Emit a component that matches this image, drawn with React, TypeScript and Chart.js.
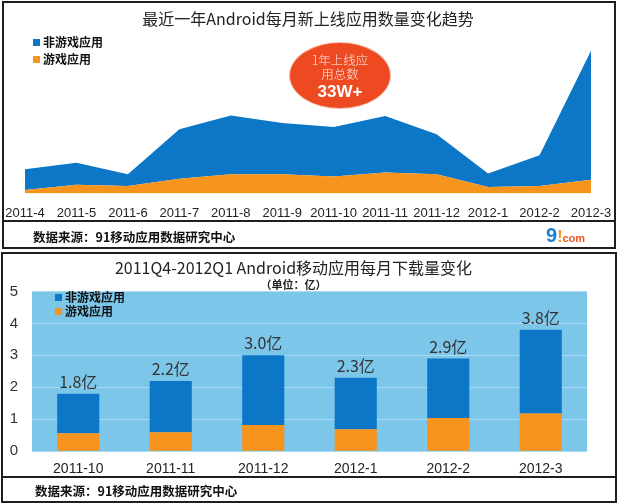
import React, { useEffect, useRef } from 'react';
import { Chart, registerables } from 'chart.js';

Chart.register(...registerables);

// ---------- Top chart data (new apps per month, unit: 千) ----------
const months = ['2011-4', '2011-5', '2011-6', '2011-7', '2011-8', '2011-9', '2011-10', '2011-11', '2011-12', '2012-1', '2012-2', '2012-3'];
const gameNew = [1.6, 4.1, 3.6, 7.0, 9.2, 9.2, 8.1, 10.0, 9.2, 3.1, 3.6, 6.5];
const nonGameNew = [10.0, 10.6, 5.6, 23.7, 28.1, 24.5, 23.7, 27.0, 19.1, 6.4, 14.7, 61.8];

// ---------- Bottom chart data (downloads per month, unit: 亿) ----------
const dlMonths = ['2011-10', '2011-11', '2011-12', '2012-1', '2012-2', '2012-3'];
const gameDl = [0.56, 0.59, 0.82, 0.69, 1.04, 1.18];
const nonGameDl = [1.24, 1.61, 2.18, 1.61, 1.86, 2.62];
const dlTicks = [0, 1, 2, 3, 4, 5];

const seriesNames = ['非游戏应用', '游戏应用'];

const BLUE = '#0c77c6';
const ORANGE = '#f7941e';
const PLOT_BG = '#7cc6ea';
const GRID = '#a9dbf2';
const CJK = '"Noto Sans CJK SC", "Noto Sans", sans-serif';
const LATIN = '"Liberation Sans", Arial, sans-serif';

const plotBgPlugin = {
  id: 'plotBg',
  beforeDraw(chart: any) {
    const { ctx, chartArea } = chart;
    if (!chartArea) return;
    ctx.save();
    ctx.fillStyle = PLOT_BG;
    ctx.fillRect(chartArea.left, chartArea.top, chartArea.right - chartArea.left, chartArea.bottom - chartArea.top);
    ctx.restore();
  },
};

const totalsPlugin = {
  id: 'totals',
  afterDatasetsDraw(chart: any) {
    const { ctx } = chart;
    const meta = chart.getDatasetMeta(1);
    ctx.save();
    ctx.fillStyle = '#333';
    ctx.font = `16px ${CJK}`;
    ctx.textAlign = 'center';
    ctx.textBaseline = 'bottom';
    meta.data.forEach((bar: any, i: number) => {
      const total = gameDl[i] + nonGameDl[i];
      ctx.fillText(total.toFixed(1) + '亿', bar.x, bar.y - 4);
    });
    ctx.restore();
  },
};

function TopChart() {
  const ref = useRef<HTMLCanvasElement>(null);
  useEffect(() => {
    const chart = new Chart(ref.current!, {
      type: 'line',
      data: {
        labels: months,
        datasets: [
          {
            label: seriesNames[1],
            data: gameNew,
            backgroundColor: ORANGE,
            borderWidth: 0,
            pointRadius: 0,
            fill: 'origin',
            tension: 0,
          },
          {
            label: seriesNames[0],
            data: nonGameNew,
            backgroundColor: BLUE,
            borderWidth: 0,
            pointRadius: 0,
            fill: '-1',
            tension: 0,
          },
        ],
      },
      options: {
        responsive: false,
        animation: false,
        layout: { padding: { left: 25, right: 27, top: 0, bottom: 0 } },
        plugins: {
          legend: { display: false },
          tooltip: { enabled: false },
          title: {
            display: true,
            text: '最近一年Android每月新上线应用数量变化趋势',
            color: '#222',
            font: { family: CJK, size: 16, weight: 'normal' },
            padding: { top: 9, bottom: 10 },
          },
        },
        scales: {
          x: {
            grid: { display: false, drawTicks: false },
            border: { display: false },
            afterFit: (scale: any) => {
              scale.paddingLeft = 0;
              scale.paddingRight = 0;
            },
            ticks: {
              color: '#222',
              font: { family: LATIN, size: 13 },
              padding: 12,
              autoSkip: false,
              maxRotation: 0,
            },
          },
          y: {
            display: false,
            stacked: true,
            min: 0,
            max: 74.3,
          },
        },
      },
    });
    return () => chart.destroy();
  }, []);
  return <canvas ref={ref} width={618} height={233} style={{ position: 'absolute', left: 0, top: 0, width: 618, height: 233 }} />;
}

function BottomChart() {
  const ref = useRef<HTMLCanvasElement>(null);
  useEffect(() => {
    const chart = new Chart(ref.current!, {
      type: 'bar',
      data: {
        labels: dlMonths,
        datasets: [
          {
            label: seriesNames[1],
            data: gameDl,
            backgroundColor: ORANGE,
            borderWidth: 0,
            categoryPercentage: 1,
            barPercentage: 0.455,
          },
          {
            label: seriesNames[0],
            data: nonGameDl,
            backgroundColor: BLUE,
            borderWidth: 0,
            categoryPercentage: 1,
            barPercentage: 0.455,
          },
        ],
      },
      options: {
        responsive: false,
        animation: false,
        layout: { padding: { left: 0, right: 31, top: 0, bottom: 0 } },
        plugins: {
          legend: { display: false },
          tooltip: { enabled: false },
          title: {
            display: true,
            text: '2011Q4-2012Q1 Android移动应用每月下载量变化',
            color: '#222',
            font: { family: CJK, size: 16, weight: 'normal' },
            padding: { top: 6, bottom: 1 },
          },
          subtitle: {
            display: true,
            text: '（单位：亿）',
            color: '#222',
            font: { family: CJK, size: 11, weight: 'bold' },
            padding: { top: 0, bottom: 0 },
          },
        },
        scales: {
          x: {
            stacked: true,
            grid: { display: false, drawTicks: false },
            border: { display: false },
            ticks: {
              color: '#222',
              font: { family: LATIN, size: 14 },
              padding: 10,
              autoSkip: false,
              maxRotation: 0,
            },
          },
          y: {
            stacked: true,
            min: 0,
            max: 5,
            afterFit: (scale: any) => {
              scale.width = 32;
            },
            afterBuildTicks: (scale: any) => {
              scale.ticks = dlTicks.map((v) => ({ value: v }));
            },
            grid: { color: GRID, lineWidth: 1, drawTicks: false },
            border: { display: false },
            ticks: {
              color: '#333',
              font: { family: LATIN, size: 15 },
              padding: 14,
            },
          },
        },
      },
      plugins: [plotBgPlugin, totalsPlugin],
    });
    return () => chart.destroy();
  }, []);
  return <canvas ref={ref} width={618} height={236} style={{ position: 'absolute', left: 0, top: 252, width: 618, height: 236 }} />;
}

const legendText: React.CSSProperties = {
  position: 'absolute',
  fontFamily: CJK,
  fontWeight: 700,
  fontSize: 12,
  color: '#111',
  lineHeight: '14px',
  whiteSpace: 'nowrap',
};

function LegendItem({ x, y, color, text }: { x: number; y: number; color: string; text: string }) {
  return (
    <>
      <div style={{ position: 'absolute', left: x, top: y - 3.5, width: 7, height: 7, background: color }} />
      <div style={{ ...legendText, left: x + 10, top: y - 7.5 }}>{text}</div>
    </>
  );
}

export default function App() {
  const footer = '数据来源：91移动应用数据研究中心';
  return (
    <div style={{ position: 'absolute', left: 0, top: 0, width: 618, height: 504, background: '#fff', overflow: 'hidden' }}>
      {/* top panel frame */}
      <div style={{ position: 'absolute', left: 2, top: 1, width: 614, height: 248, border: '2px solid #1e1e1e', boxSizing: 'border-box' }} />
      <div style={{ position: 'absolute', left: 2, top: 220, width: 614, height: 2, background: '#1e1e1e' }} />
      {/* bottom panel frame */}
      <div style={{ position: 'absolute', left: 1, top: 252, width: 616, height: 251, border: '2px solid #1e1e1e', boxSizing: 'border-box' }} />
      <div style={{ position: 'absolute', left: 1, top: 476, width: 616, height: 2, background: '#1e1e1e' }} />

      <TopChart />
      <BottomChart />

      <LegendItem x={33} y={42} color={BLUE} text={seriesNames[0]} />
      <LegendItem x={33} y={59} color={ORANGE} text={seriesNames[1]} />

      <LegendItem x={55} y={297} color={BLUE} text={seriesNames[0]} />
      <LegendItem x={55} y={311} color={ORANGE} text={seriesNames[1]} />

      {/* bubble annotation */}
      <div
        style={{
          position: 'absolute',
          left: 290,
          top: 43,
          width: 100,
          height: 65,
          borderRadius: '50%',
          background: '#ee4a22',
          boxShadow: '0 0 0 1px #f7b9a4',
          color: '#fff',
          textAlign: 'center',
          fontFamily: CJK,
        }}
      >
        <div style={{ position: 'absolute', left: 0, right: 0, top: 10, fontSize: 12.5, lineHeight: '13px', fontWeight: 300, color: '#fde8e0' }}>1年上线应</div>
        <div style={{ position: 'absolute', left: 0, right: 0, top: 24, fontSize: 12.5, lineHeight: '13px', fontWeight: 300, color: '#fde8e0' }}>用总数</div>
        <div style={{ position: 'absolute', left: 0, right: 0, top: 39, fontSize: 17, lineHeight: '20px', fontWeight: 700, fontFamily: LATIN }}>33W+</div>
      </div>

      {/* footers */}
      <div style={{ ...legendText, left: 33, top: 230, fontSize: 12.5 }}>{footer}</div>
      <div style={{ ...legendText, left: 35, top: 484, fontSize: 12.5 }}>{footer}</div>

      {/* source logo */}
      <div style={{ position: 'absolute', left: 546, top: 225, whiteSpace: 'nowrap', fontFamily: LATIN, lineHeight: '20px' }}>
        <span style={{ fontSize: 20, fontWeight: 700, color: '#1a7fd0' }}>9</span>
        <span style={{ fontSize: 16, fontWeight: 700, color: ORANGE }}>!</span>
        <span style={{ fontSize: 11, fontWeight: 700, color: '#ef5a24' }}>com</span>
      </div>
    </div>
  );
}
